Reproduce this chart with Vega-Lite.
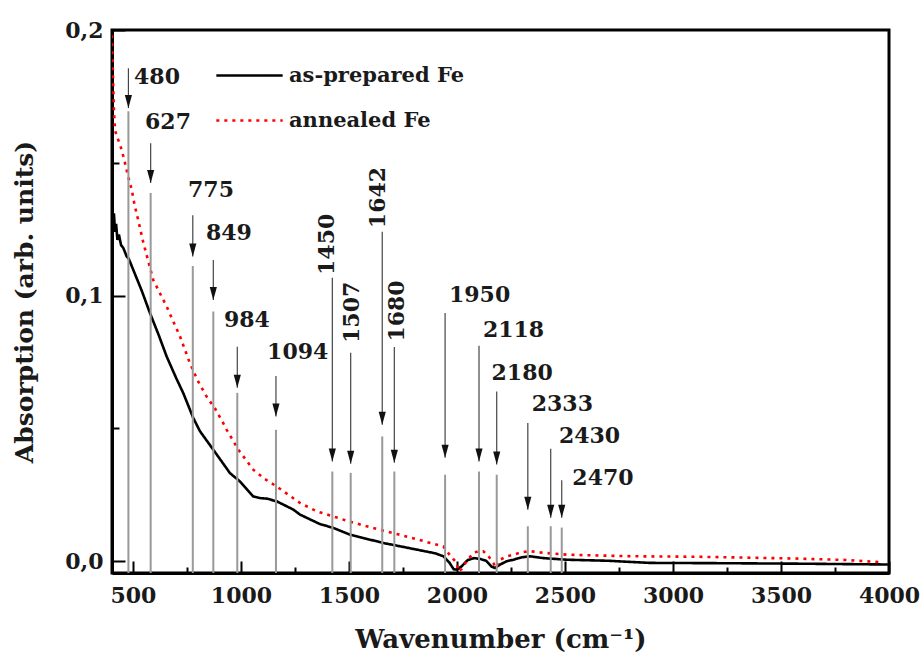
{
  "$schema": "https://vega.github.io/schema/vega-lite/v6.json",
  "autosize": {"type": "none"},
  "width": 777,
  "height": 543,
  "padding": {"left": 112, "top": 30, "right": 35, "bottom": 86},
  "background": "white",
  "config": {
    "view": {"stroke": "black", "strokeWidth": 3},
    "font": "DejaVu Serif",
    "axis": {
      "domainColor": "black", "domainWidth": 3, "tickColor": "black", "tickWidth": 2,
      "labelFont": "DejaVu Serif", "labelFontSize": 22, "labelFontWeight": "bold", "labelColor": "#1a1a1a",
      "titleFont": "DejaVu Serif", "titleFontSize": 25, "titleFontWeight": "bold", "titleColor": "#1a1a1a",
      "grid": false
    }
  },
  "datasets": {
    "curves": [
      {"wn": 403, "abs": 0.133, "sample": "as-prepared Fe"},
      {"wn": 408, "abs": 0.128, "sample": "as-prepared Fe"},
      {"wn": 412, "abs": 0.131, "sample": "as-prepared Fe"},
      {"wn": 417, "abs": 0.124, "sample": "as-prepared Fe"},
      {"wn": 422, "abs": 0.127, "sample": "as-prepared Fe"},
      {"wn": 428, "abs": 0.121, "sample": "as-prepared Fe"},
      {"wn": 435, "abs": 0.123, "sample": "as-prepared Fe"},
      {"wn": 445, "abs": 0.119, "sample": "as-prepared Fe"},
      {"wn": 455, "abs": 0.118, "sample": "as-prepared Fe"},
      {"wn": 465, "abs": 0.116, "sample": "as-prepared Fe"},
      {"wn": 471, "abs": 0.1147, "sample": "as-prepared Fe"},
      {"wn": 480, "abs": 0.114, "sample": "as-prepared Fe"},
      {"wn": 500, "abs": 0.110, "sample": "as-prepared Fe"},
      {"wn": 540, "abs": 0.102, "sample": "as-prepared Fe"},
      {"wn": 579, "abs": 0.0934, "sample": "as-prepared Fe"},
      {"wn": 620, "abs": 0.085, "sample": "as-prepared Fe"},
      {"wn": 656, "abs": 0.0771, "sample": "as-prepared Fe"},
      {"wn": 700, "abs": 0.069, "sample": "as-prepared Fe"},
      {"wn": 733, "abs": 0.0633, "sample": "as-prepared Fe"},
      {"wn": 779, "abs": 0.0540, "sample": "as-prepared Fe"},
      {"wn": 810, "abs": 0.0490, "sample": "as-prepared Fe"},
      {"wn": 872, "abs": 0.0420, "sample": "as-prepared Fe"},
      {"wn": 949, "abs": 0.0332, "sample": "as-prepared Fe"},
      {"wn": 995, "abs": 0.0301, "sample": "as-prepared Fe"},
      {"wn": 1057, "abs": 0.0244, "sample": "as-prepared Fe"},
      {"wn": 1090, "abs": 0.0238, "sample": "as-prepared Fe"},
      {"wn": 1119, "abs": 0.0236, "sample": "as-prepared Fe"},
      {"wn": 1165, "abs": 0.0226, "sample": "as-prepared Fe"},
      {"wn": 1242, "abs": 0.0195, "sample": "as-prepared Fe"},
      {"wn": 1273, "abs": 0.0176, "sample": "as-prepared Fe"},
      {"wn": 1366, "abs": 0.0140, "sample": "as-prepared Fe"},
      {"wn": 1427, "abs": 0.0126, "sample": "as-prepared Fe"},
      {"wn": 1505, "abs": 0.0100, "sample": "as-prepared Fe"},
      {"wn": 1580, "abs": 0.0085, "sample": "as-prepared Fe"},
      {"wn": 1659, "abs": 0.0069, "sample": "as-prepared Fe"},
      {"wn": 1740, "abs": 0.0056, "sample": "as-prepared Fe"},
      {"wn": 1814, "abs": 0.0044, "sample": "as-prepared Fe"},
      {"wn": 1900, "abs": 0.0030, "sample": "as-prepared Fe"},
      {"wn": 1937, "abs": 0.0019, "sample": "as-prepared Fe"},
      {"wn": 1965, "abs": -0.0005, "sample": "as-prepared Fe"},
      {"wn": 1985, "abs": -0.0030, "sample": "as-prepared Fe"},
      {"wn": 1999, "abs": -0.0031, "sample": "as-prepared Fe"},
      {"wn": 2020, "abs": -0.0020, "sample": "as-prepared Fe"},
      {"wn": 2050, "abs": 0.0005, "sample": "as-prepared Fe"},
      {"wn": 2080, "abs": 0.0012, "sample": "as-prepared Fe"},
      {"wn": 2107, "abs": 0.0009, "sample": "as-prepared Fe"},
      {"wn": 2135, "abs": 0.0002, "sample": "as-prepared Fe"},
      {"wn": 2160, "abs": -0.0020, "sample": "as-prepared Fe"},
      {"wn": 2176, "abs": -0.0025, "sample": "as-prepared Fe"},
      {"wn": 2200, "abs": -0.0012, "sample": "as-prepared Fe"},
      {"wn": 2230, "abs": 0.0000, "sample": "as-prepared Fe"},
      {"wn": 2261, "abs": 0.0006, "sample": "as-prepared Fe"},
      {"wn": 2300, "abs": 0.0015, "sample": "as-prepared Fe"},
      {"wn": 2338, "abs": 0.0019, "sample": "as-prepared Fe"},
      {"wn": 2400, "abs": 0.0012, "sample": "as-prepared Fe"},
      {"wn": 2508, "abs": 0.0006, "sample": "as-prepared Fe"},
      {"wn": 2700, "abs": 0.0002, "sample": "as-prepared Fe"},
      {"wn": 2894, "abs": -0.0006, "sample": "as-prepared Fe"},
      {"wn": 3200, "abs": -0.0007, "sample": "as-prepared Fe"},
      {"wn": 3600, "abs": -0.0009, "sample": "as-prepared Fe"},
      {"wn": 3995, "abs": -0.0012, "sample": "as-prepared Fe"},
      {"wn": 403, "abs": 0.198, "sample": "annealed Fe"},
      {"wn": 406, "abs": 0.188, "sample": "annealed Fe"},
      {"wn": 409, "abs": 0.178, "sample": "annealed Fe"},
      {"wn": 412, "abs": 0.170, "sample": "annealed Fe"},
      {"wn": 415, "abs": 0.165, "sample": "annealed Fe"},
      {"wn": 418, "abs": 0.162, "sample": "annealed Fe"},
      {"wn": 425, "abs": 0.160, "sample": "annealed Fe"},
      {"wn": 435, "abs": 0.158, "sample": "annealed Fe"},
      {"wn": 448, "abs": 0.1548, "sample": "annealed Fe"},
      {"wn": 463, "abs": 0.150, "sample": "annealed Fe"},
      {"wn": 478, "abs": 0.1447, "sample": "annealed Fe"},
      {"wn": 494, "abs": 0.140, "sample": "annealed Fe"},
      {"wn": 509, "abs": 0.1335, "sample": "annealed Fe"},
      {"wn": 517, "abs": 0.131, "sample": "annealed Fe"},
      {"wn": 548, "abs": 0.120, "sample": "annealed Fe"},
      {"wn": 594, "abs": 0.1059, "sample": "annealed Fe"},
      {"wn": 656, "abs": 0.0959, "sample": "annealed Fe"},
      {"wn": 718, "abs": 0.0846, "sample": "annealed Fe"},
      {"wn": 764, "abs": 0.0745, "sample": "annealed Fe"},
      {"wn": 800, "abs": 0.068, "sample": "annealed Fe"},
      {"wn": 841, "abs": 0.0620, "sample": "annealed Fe"},
      {"wn": 880, "abs": 0.0575, "sample": "annealed Fe"},
      {"wn": 918, "abs": 0.0520, "sample": "annealed Fe"},
      {"wn": 934, "abs": 0.0495, "sample": "annealed Fe"},
      {"wn": 988, "abs": 0.0420, "sample": "annealed Fe"},
      {"wn": 1057, "abs": 0.0345, "sample": "annealed Fe"},
      {"wn": 1110, "abs": 0.0310, "sample": "annealed Fe"},
      {"wn": 1165, "abs": 0.0282, "sample": "annealed Fe"},
      {"wn": 1273, "abs": 0.0220, "sample": "annealed Fe"},
      {"wn": 1351, "abs": 0.0188, "sample": "annealed Fe"},
      {"wn": 1427, "abs": 0.0169, "sample": "annealed Fe"},
      {"wn": 1500, "abs": 0.0150, "sample": "annealed Fe"},
      {"wn": 1582, "abs": 0.0132, "sample": "annealed Fe"},
      {"wn": 1660, "abs": 0.0115, "sample": "annealed Fe"},
      {"wn": 1736, "abs": 0.0100, "sample": "annealed Fe"},
      {"wn": 1850, "abs": 0.0075, "sample": "annealed Fe"},
      {"wn": 1937, "abs": 0.0056, "sample": "annealed Fe"},
      {"wn": 1970, "abs": 0.0020, "sample": "annealed Fe"},
      {"wn": 1999, "abs": -0.0006, "sample": "annealed Fe"},
      {"wn": 2006, "abs": -0.0038, "sample": "annealed Fe"},
      {"wn": 2020, "abs": -0.0030, "sample": "annealed Fe"},
      {"wn": 2045, "abs": 0.0000, "sample": "annealed Fe"},
      {"wn": 2076, "abs": 0.0032, "sample": "annealed Fe"},
      {"wn": 2100, "abs": 0.0038, "sample": "annealed Fe"},
      {"wn": 2122, "abs": 0.0038, "sample": "annealed Fe"},
      {"wn": 2145, "abs": 0.0020, "sample": "annealed Fe"},
      {"wn": 2168, "abs": -0.0006, "sample": "annealed Fe"},
      {"wn": 2180, "abs": -0.0025, "sample": "annealed Fe"},
      {"wn": 2199, "abs": 0.0006, "sample": "annealed Fe"},
      {"wn": 2230, "abs": 0.0018, "sample": "annealed Fe"},
      {"wn": 2261, "abs": 0.0025, "sample": "annealed Fe"},
      {"wn": 2300, "abs": 0.0034, "sample": "annealed Fe"},
      {"wn": 2338, "abs": 0.0038, "sample": "annealed Fe"},
      {"wn": 2400, "abs": 0.0032, "sample": "annealed Fe"},
      {"wn": 2508, "abs": 0.0025, "sample": "annealed Fe"},
      {"wn": 2650, "abs": 0.0022, "sample": "annealed Fe"},
      {"wn": 2816, "abs": 0.0019, "sample": "annealed Fe"},
      {"wn": 3124, "abs": 0.0017, "sample": "annealed Fe"},
      {"wn": 3400, "abs": 0.0013, "sample": "annealed Fe"},
      {"wn": 3587, "abs": 0.0010, "sample": "annealed Fe"},
      {"wn": 3800, "abs": 0.0005, "sample": "annealed Fe"},
      {"wn": 3972, "abs": -0.0004, "sample": "annealed Fe"}
    ],
    "peaks": [
      {"label": "480", "pos": 479, "top": 0.1856, "tip": 0.1706, "gray": 0.1694, "lx": 505, "ly": 0.1822, "rot": 0},
      {"label": "627", "pos": 582, "top": 0.1574, "tip": 0.1424, "gray": 0.1386, "lx": 556, "ly": 0.1654, "rot": 0},
      {"label": "775", "pos": 777, "top": 0.1303, "tip": 0.1147, "gray": 0.1112, "lx": 755, "ly": 0.1397, "rot": 0},
      {"label": "849", "pos": 872, "top": 0.1134, "tip": 0.0984, "gray": 0.0940, "lx": 838, "ly": 0.1236, "rot": 0},
      {"label": "984", "pos": 983, "top": 0.0808, "tip": 0.0653, "gray": 0.0634, "lx": 921, "ly": 0.0909, "rot": 0},
      {"label": "1094", "pos": 1162, "top": 0.0698, "tip": 0.0545, "gray": 0.0495, "lx": 1121, "ly": 0.0789, "rot": 0},
      {"label": "1450", "pos": 1423, "top": 0.1067, "tip": 0.0376, "gray": 0.0338, "lx": 1397, "ly": 0.1078, "rot": 1},
      {"label": "1507", "pos": 1508, "top": 0.0785, "tip": 0.0367, "gray": 0.0333, "lx": 1513, "ly": 0.0822, "rot": 1},
      {"label": "1642", "pos": 1654, "top": 0.1241, "tip": 0.0514, "gray": 0.0470, "lx": 1636, "ly": 0.1254, "rot": 1},
      {"label": "1680", "pos": 1710, "top": 0.0807, "tip": 0.0371, "gray": 0.0338, "lx": 1721, "ly": 0.0827, "rot": 1},
      {"label": "1950", "pos": 1945, "top": 0.0935, "tip": 0.0390, "gray": 0.0326, "lx": 1963, "ly": 0.1003, "rot": 0},
      {"label": "2118", "pos": 2102, "top": 0.0811, "tip": 0.0376, "gray": 0.0338, "lx": 2120, "ly": 0.0871, "rot": 0},
      {"label": "2180", "pos": 2184, "top": 0.0639, "tip": 0.0364, "gray": 0.0326, "lx": 2160, "ly": 0.0709, "rot": 0},
      {"label": "2333", "pos": 2328, "top": 0.0521, "tip": 0.0194, "gray": 0.0132, "lx": 2346, "ly": 0.0593, "rot": 0},
      {"label": "2430", "pos": 2434, "top": 0.0424, "tip": 0.0164, "gray": 0.0132, "lx": 2472, "ly": 0.0470, "rot": 0},
      {"label": "2470", "pos": 2485, "top": 0.0305, "tip": 0.0164, "gray": 0.0127, "lx": 2534, "ly": 0.0315, "rot": 0}
    ]
  },
  "layer": [
    {
      "data": {"name": "curves"},
      "mark": {"type": "line", "strokeWidth": 2.6, "strokeCap": "butt", "clip": true},
      "encoding": {
        "x": {
          "field": "wn", "type": "quantitative",
          "scale": {"domain": [403, 4000], "nice": false, "zero": false},
          "axis": {
            "title": "Wavenumber (cm⁻¹)",
            "titleFontSize": 26,
            "format": "d",
            "values": [500, 750, 1000, 1250, 1500, 1750, 2000, 2250, 2500, 2750, 3000, 3250, 3500, 3750, 4000],
            "labelExpr": "datum.value % 500 === 0 ? datum.label : ''",
            "tickSize": {"condition": {"test": "datum.value % 500 === 0", "value": -12}, "value": -6},
            "labelPadding": 24,
            "titlePadding": 20,
            "labelFlush": false
          }
        },
        "y": {
          "field": "abs", "type": "quantitative",
          "scale": {"domain": [-0.0044, 0.2], "nice": false, "zero": false},
          "axis": {
            "title": "Absorption (arb. units)",
            "values": [0, 0.05, 0.1, 0.15, 0.2],
            "labelExpr": "abs(datum.value * 10 - round(datum.value * 10)) < 0.001 ? replace(format(datum.value, '.1f'), '.', ',') : ''",
            "tickSize": {"condition": {"test": "abs(datum.value * 10 - round(datum.value * 10)) < 0.001", "value": -13}, "value": -7},
            "labelPadding": 22,
            "titlePadding": 27,
            "labelFlush": false
          }
        },
        "color": {
          "field": "sample", "type": "nominal",
          "scale": {"domain": ["as-prepared Fe", "annealed Fe"], "range": ["#000000", "#ff0000"]},
          "legend": {
            "orient": "none", "legendX": 103, "legendY": 11, "title": null,
            "symbolType": "stroke", "symbolSize": 4400, "symbolStrokeWidth": 2.6,
            "labelFont": "DejaVu Serif", "labelFontSize": 21, "labelFontWeight": "bold", "labelColor": "#1a1a1a",
            "labelOffset": 5, "rowPadding": 0, "labelLimit": 400
          }
        },
        "strokeDash": {
          "field": "sample", "type": "nominal",
          "scale": {"domain": ["as-prepared Fe", "annealed Fe"], "range": [[1, 0], [3, 5]]},
          "legend": {
            "orient": "none", "legendX": 103, "legendY": 11, "title": null,
            "symbolType": "stroke", "symbolSize": 4400, "symbolStrokeWidth": 2.6,
            "labelFont": "DejaVu Serif", "labelFontSize": 21, "labelFontWeight": "bold", "labelColor": "#1a1a1a",
            "labelOffset": 5, "rowPadding": 0, "labelLimit": 400
          }
        }
      }
    },
    {
      "data": {"name": "peaks"},
      "mark": {"type": "rule", "color": "#999999", "strokeWidth": 2},
      "encoding": {
        "x": {"field": "pos", "type": "quantitative", "axis": {"title": "Wavenumber (cm⁻¹)"}},
        "y": {"field": "gray", "type": "quantitative", "axis": {"title": "Absorption (arb. units)"}},
        "y2": {"datum": -0.0044}
      }
    },
    {
      "data": {"name": "peaks"},
      "mark": {"type": "rule", "color": "#444444", "strokeWidth": 1.2},
      "encoding": {
        "x": {"field": "pos", "type": "quantitative", "axis": {"title": "Wavenumber (cm⁻¹)"}},
        "y": {"field": "top", "type": "quantitative", "axis": {"title": "Absorption (arb. units)"}},
        "y2": {"field": "tip"}
      }
    },
    {
      "data": {"name": "peaks"},
      "mark": {"type": "point", "shape": "M-0.55,-2L0.55,-2L0,0Z", "size": 169, "filled": true, "color": "#111111", "opacity": 1},
      "encoding": {
        "x": {"field": "pos", "type": "quantitative", "axis": {"title": "Wavenumber (cm⁻¹)"}},
        "y": {"field": "tip", "type": "quantitative", "axis": {"title": "Absorption (arb. units)"}}
      }
    },
    {
      "data": {"name": "peaks"},
      "transform": [{"filter": "datum.rot === 0"}],
      "mark": {"type": "text", "align": "left", "baseline": "middle", "font": "DejaVu Serif", "fontSize": 22, "fontWeight": "bold", "color": "#1a1a1a"},
      "encoding": {
        "x": {"field": "lx", "type": "quantitative", "axis": {"title": "Wavenumber (cm⁻¹)"}},
        "y": {"field": "ly", "type": "quantitative", "axis": {"title": "Absorption (arb. units)"}},
        "text": {"field": "label"}
      }
    },
    {
      "data": {"name": "peaks"},
      "transform": [{"filter": "datum.rot === 1"}],
      "mark": {"type": "text", "align": "left", "baseline": "middle", "angle": 270, "font": "DejaVu Serif", "fontSize": 22, "fontWeight": "bold", "color": "#1a1a1a"},
      "encoding": {
        "x": {"field": "lx", "type": "quantitative", "axis": {"title": "Wavenumber (cm⁻¹)"}},
        "y": {"field": "ly", "type": "quantitative", "axis": {"title": "Absorption (arb. units)"}},
        "text": {"field": "label"}
      }
    }
  ]
}
